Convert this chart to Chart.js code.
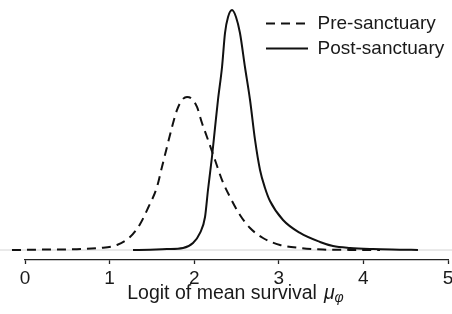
<!DOCTYPE html>
<html>
<head>
<meta charset="utf-8">
<script src="https://cdn.jsdelivr.net/npm/chart.js@4.4.0/dist/chart.umd.min.js"></script>
<style>
    html, body { margin: 0; padding: 0; background: #ffffff; }
    canvas { display: block; }
</style>
</head>
<body>
<canvas id="chart" width="452" height="314"></canvas>
<script>
// Posterior density of logit mean survival

const preX = [-0.154, 0.18, 0.53, 0.887, 1.087, 1.241, 1.359, 1.454, 1.56, 1.619, 1.678, 1.738, 1.797,
    1.856, 1.915, 1.974, 2.033, 2.092, 2.151, 2.246, 2.329, 2.423, 2.541, 2.66, 2.813, 3.014, 3.251,
    3.522, 3.842, 4.196];
const preY = [0, 0.003, 0.006, 0.017, 0.042, 0.108, 0.215, 0.35, 0.525, 0.692, 0.858, 1.025, 1.167,
    1.25, 1.275, 1.258, 1.192, 1.058, 0.942, 0.75, 0.583, 0.442, 0.292, 0.183, 0.1, 0.042, 0.017,
    0.004, 0.001, 0];

const postX = [1.277, 1.478, 1.678, 1.868, 1.986, 2.069, 2.128, 2.163, 2.21, 2.246, 2.281, 2.329,
    2.364, 2.4, 2.447, 2.494, 2.541, 2.6, 2.66, 2.719, 2.778, 2.837, 2.896, 3.05, 3.251, 3.487,
    3.641, 3.842, 4.113, 4.43, 4.645];
const postY = [0, 0.003, 0.008, 0.017, 0.058, 0.142, 0.275, 0.5, 0.775, 1.017, 1.25, 1.525,
    1.808, 1.942, 2.0, 1.942, 1.808, 1.525, 1.25, 0.917, 0.667, 0.517, 0.408, 0.25, 0.142, 0.067,
    0.033, 0.017, 0.008, 0.003, 0];

// zero line of the density, runs across the whole plot
const baseX = [-0.3, 5.06];
const baseY = [0, 0];

const xTicks = [0, 1, 2, 3, 4, 5];
const seriesNames = ['Pre-sanctuary', 'Post-sanctuary'];
const axisTitle = 'Logit of mean survival';
const axisSymbol = 'μ';
const axisSubscript = 'φ';

const FONT = "'Liberation Sans', Arial, Helvetica, sans-serif";
const INK = '#1a1a1a';

function toPoints(xs, ys) {
    return xs.map((x, i) => ({ x: x, y: ys[i] }));
}

// move the vertical legend into the top right corner of the plot
const legendPlacer = {
    id: 'legendPlacer',
    afterLayout(chart) {
        const lg = chart.legend;
        if (!lg) return;
        const w = lg.width;
        lg.left = 260;
        lg.top = 8;
        lg.right = lg.left + w;
        lg.bottom = lg.top + 64;
        lg.height = 64;
    }
};

// x axis title with italic mu and subscript phi
const axisTitlePlugin = {
    id: 'axisTitle',
    afterDraw(chart) {
        const ctx = chart.ctx;
        const x = chart.scales.x;
        ctx.save();
        ctx.fillStyle = INK;
        ctx.textBaseline = 'alphabetic';
        ctx.textAlign = 'left';

        ctx.font = '19.5px ' + FONT;
        const w1 = ctx.measureText(axisTitle).width;
        ctx.font = 'italic 19.5px ' + FONT;
        const w2 = ctx.measureText(axisSymbol).width;
        ctx.font = 'italic 14px ' + FONT;
        const w3 = ctx.measureText(axisSubscript).width;
        const gap = 7;
        const total = w1 + gap + w2 + w3;
        const cx = (x.left + x.right) / 2 - 1;
        let left = cx - total / 2;
        const base = 299;

        ctx.font = '19.5px ' + FONT;
        ctx.fillText(axisTitle, left, base);
        left += w1 + gap;
        ctx.font = 'italic 19.5px ' + FONT;
        ctx.fillText(axisSymbol, left, base);
        left += w2;
        ctx.font = 'italic 14px ' + FONT;
        ctx.fillText(axisSubscript, left, base + 3);
        ctx.restore();
    }
};

// legend lines take their dash and width from the dataset itself
function legendLabels(chart) {
    const items = Chart.defaults.plugins.legend.labels.generateLabels(chart);
    items.forEach(item => {
        const ds = chart.data.datasets[item.datasetIndex];
        item.lineDash = ds.borderDash || [];
        item.lineWidth = ds.borderWidth;
        item.strokeStyle = ds.borderColor;
    });
    return items;
}

const ctx = document.getElementById('chart').getContext('2d');

new Chart(ctx, {
    type: 'line',
    data: {
        datasets: [
            {
                label: seriesNames[0],
                data: toPoints(preX, preY),
                borderColor: '#111111',
                borderWidth: 2,
                borderDash: [9, 6],
                cubicInterpolationMode: 'monotone',
                pointRadius: 0,
                fill: false,
                clip: false
            },
            {
                label: seriesNames[1],
                data: toPoints(postX, postY),
                borderColor: '#111111',
                borderWidth: 2,
                cubicInterpolationMode: 'monotone',
                pointRadius: 0,
                fill: false,
                clip: false
            },
            {
                label: 'zero',
                data: toPoints(baseX, baseY),
                borderColor: '#d4d4d4',
                borderWidth: 1,
                pointRadius: 0,
                fill: false,
                clip: false
            }
        ]
    },
    options: {
        responsive: false,
        animation: false,
        devicePixelRatio: 1,
        layout: {
            autoPadding: false,
            padding: { left: 25, right: 4, top: 0, bottom: 0 }
        },
        plugins: {
            tooltip: { enabled: false },
            legend: {
                position: 'chartArea',
                align: 'start',
                labels: {
                    color: INK,
                    font: { size: 19, family: FONT },
                    usePointStyle: true,
                    pointStyle: 'line',
                    pointStyleWidth: 42,
                    padding: 6,
                    generateLabels: legendLabels,
                    filter: item => item.datasetIndex < 2
                }
            }
        },
        scales: {
            x: {
                type: 'linear',
                min: 0,
                max: 5,
                afterBuildTicks: s => { s.ticks = xTicks.map(v => ({ value: v })); },
                afterFit: s => {
                    s.height = 54;
                    s.paddingLeft = 0;
                    s.paddingRight = 0;
                },
                border: { display: true, color: '#222222', width: 1.3 },
                grid: {
                    drawOnChartArea: false,
                    drawTicks: true,
                    tickLength: 4,
                    tickColor: '#222222',
                    tickWidth: 1.3
                },
                ticks: {
                    color: INK,
                    font: { size: 19, family: FONT },
                    padding: 3,
                    maxRotation: 0,
                    autoSkip: false,
                    callback: v => String(v)
                }
            },
            y: {
                display: false,
                min: -0.0833,
                max: 2.0833
            }
        }
    },
    plugins: [legendPlacer, axisTitlePlugin]
});
</script>
</body>
</html>
